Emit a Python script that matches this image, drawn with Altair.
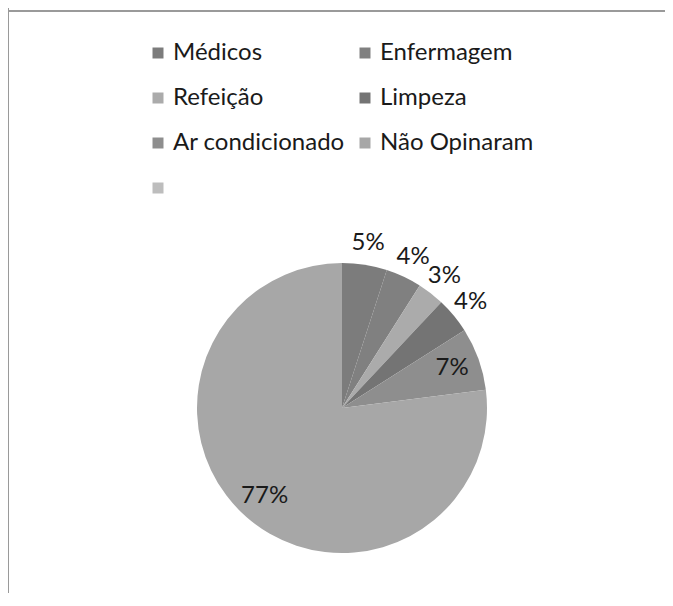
import altair as alt
import pandas as pd

categories = ["Médicos", "Enfermagem", "Refeição", "Limpeza", "Ar condicionado", "Não Opinaram", " "]
values = [5, 4, 3, 4, 7, 77, 0]
colors = ["#7c7c7c", "#808080", "#ababab", "#747474", "#8e8e8e", "#a7a7a7", "#bdbdbd"]

df = pd.DataFrame({"cat": categories, "value": values, "idx": list(range(len(categories)))})

# legend is laid out column by column, so order the domain to read row by row
legend_order = [categories[i] for i in (0, 2, 4, 6, 1, 3, 5)]
legend_colors = [colors[i] for i in (0, 2, 4, 6, 1, 3, 5)]

W, H = 657, 585
CX, CY = 334, 400
FONT = "Lato"
FS = 24

theta_scale = alt.Scale(domain=[0, 100])

base = alt.Chart(df).transform_stack(
    stack="value", groupby=[], as_=["v0", "v1"], sort=[alt.SortField("idx", order="ascending")]
).transform_calculate(mid="(datum.v0 + datum.v1) / 2", label="datum.value + '%'")

pie = base.mark_arc(outerRadius=145).encode(
    theta=alt.Theta("v0:Q", scale=theta_scale),
    theta2="v1:Q",
    color=alt.Color(
        "cat:N",
        scale=alt.Scale(domain=legend_order, range=legend_colors),
        sort=legend_order,
        legend=alt.Legend(
            title=None,
            orient="none",
            legendX=138,
            legendY=33,
            columns=2,
            symbolType="square",
            symbolSize=121,
            symbolStrokeWidth=0,
            labelFont=FONT,
            labelFontSize=FS,
            labelColor="#1a1a1a",
            labelOffset=3,
            labelLimit=400,
            rowPadding=21,
            columnPadding=8,
        ),
    ),
    x=alt.value(CX),
    y=alt.value(CY),
)

outer = base.transform_filter("datum.value > 0 && datum.value < 7").mark_text(
    radius=167, font=FONT, fontSize=FS, color="#1a1a1a"
).encode(theta=alt.Theta("mid:Q", scale=theta_scale), text="label:N", x=alt.value(CX), y=alt.value(CY))

inner = base.transform_filter("datum.value >= 7").mark_text(
    radius=117, font=FONT, fontSize=FS, color="#1a1a1a"
).encode(theta=alt.Theta("mid:Q", scale=theta_scale), text="label:N", x=alt.value(CX), y=alt.value(CY))

left_border = alt.Chart(df).mark_rule(color="#9a9a9a", strokeWidth=2).encode(
    x=alt.value(0), y=alt.value(0), y2=alt.value(H)
)
top_border = alt.Chart(df).mark_rule(color="#9a9a9a", strokeWidth=2).encode(
    x=alt.value(0), x2=alt.value(W), y=alt.value(3)
)

chart = alt.layer(left_border, top_border, pie, outer, inner).properties(
    width=W, height=H, padding=0, autosize=alt.AutoSizeParams(type="none")
).configure_view(stroke=None)

chart.save("out.html", embed_options={"renderer": "svg", "actions": False})
